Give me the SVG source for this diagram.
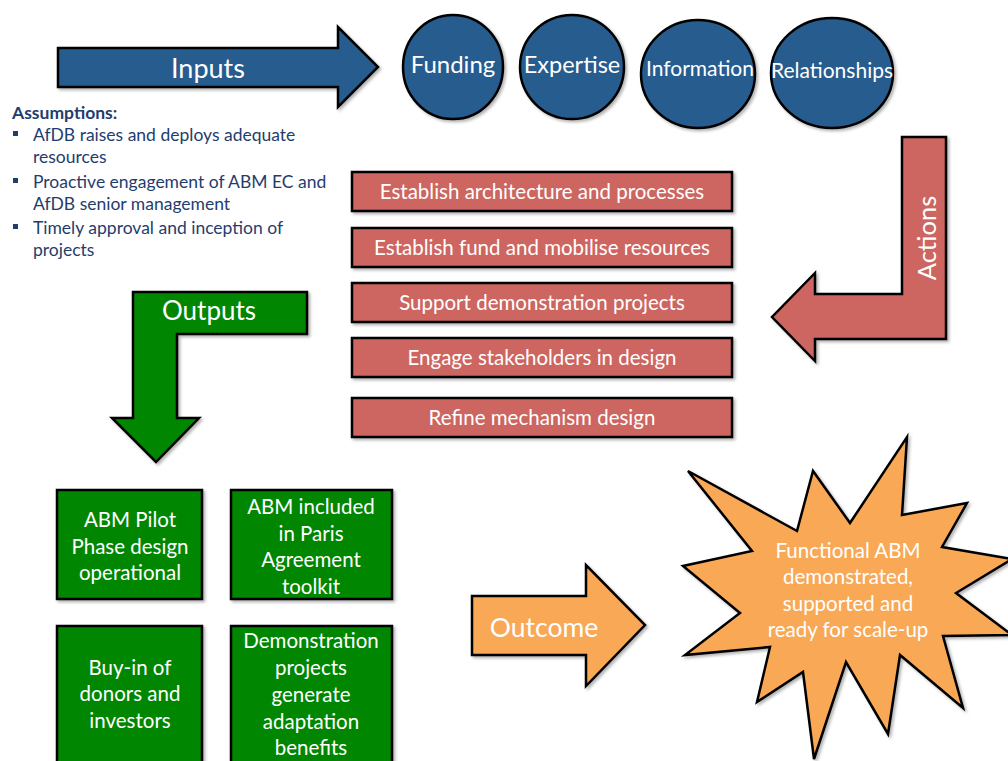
<svg xmlns="http://www.w3.org/2000/svg" width="1008" height="761" viewBox="0 0 1008 761">
  <defs>
    <filter id="shadow" x="-10%" y="-10%" width="130%" height="130%">
      <feDropShadow dx="2" dy="2" stdDeviation="1.5" flood-color="#000" flood-opacity="0.3"/>
    </filter>
    <style>
      .shape { stroke: #000; stroke-width: 2.5; stroke-linejoin: miter; filter: url(#shadow); }
      .blue { fill: #285b8e; }
      .red { fill: #cd6660; }
      .green { fill: #068606; }
      .orange { fill: #f9a857; }
      .lbl { font-family: Lato, "Open Sans", "Liberation Sans", sans-serif; fill: #fff; text-anchor: middle; }
      .assume { font-family: Lato, "Open Sans", "Liberation Sans", sans-serif; fill: #1f3d6e; font-size: 17.5px; }
      .bullet { fill: #1f3d6e; }
    </style>
  </defs>
  <rect width="1008" height="761" fill="#fff"/>

  <!-- Block arrows linking the stages -->
  <g id="connectors">
    <g id="arrow-inputs">
      <polygon class="shape blue" points="58,48 338,48 338,27 378,67 338,107 338,87 58,87"/>
      <text class="lbl" x="208" y="78" font-size="27">Inputs</text>
    </g>
    <g id="arrow-actions">
      <polygon class="shape red" points="902,137 946,137 946,339 815,339 815,361 772,317 815,273 815,294 902,294"/>
      <text class="lbl" x="0" y="0" font-size="25.5" transform="translate(936,238) rotate(-90)">Actions</text>
    </g>
    <g id="arrow-outputs">
      <polygon class="shape green" points="133,292 307,292 307,334 177,334 177,418 199,418 156,462 112,418 133,418"/>
      <text class="lbl" x="209" y="320" font-size="26">Outputs</text>
    </g>
    <g id="arrow-outcome">
      <polygon class="shape orange" points="472,596 586,596 586,565 645,625 586,686 586,655 472,655"/>
      <text class="lbl" x="544" y="637" font-size="26.5">Outcome</text>
    </g>
  </g>

  <!-- Inputs -->
  <g id="input-funding">
    <ellipse class="shape blue" cx="453" cy="67" rx="50" ry="52"/>
    <text class="lbl" x="453" y="73" font-size="24">Funding</text>
  </g>
  <g id="input-expertise">
    <ellipse class="shape blue" cx="572" cy="67" rx="52" ry="52"/>
    <text class="lbl" x="572" y="73" font-size="23.5">Expertise</text>
  </g>
  <g id="input-information">
    <ellipse class="shape blue" cx="698" cy="74" rx="57" ry="54"/>
    <text class="lbl" x="700" y="76" font-size="21">Information</text>
  </g>
  <g id="input-relationships">
    <ellipse class="shape blue" cx="832" cy="73" rx="61" ry="55"/>
    <text class="lbl" x="832" y="78" font-size="21">Relationships</text>
  </g>

  <!-- Assumptions -->
  <g id="assumptions">
    <text class="assume" x="12" y="119" font-weight="bold" font-size="17">Assumptions:</text>
    <rect class="bullet" x="13" y="131" width="5" height="5"/>
    <text class="assume" x="33" y="141">AfDB raises and deploys adequate</text>
    <text class="assume" x="33" y="163">resources</text>
    <rect class="bullet" x="13" y="178" width="5" height="5"/>
    <text class="assume" x="33" y="188">Proactive engagement of ABM EC and</text>
    <text class="assume" x="33" y="210">AfDB senior management</text>
    <rect class="bullet" x="13" y="224" width="5" height="5"/>
    <text class="assume" x="33" y="234">Timely approval and inception of</text>
    <text class="assume" x="33" y="256">projects</text>
  </g>

  <!-- Actions -->
  <g id="action-architecture">
    <rect class="shape red" x="352" y="172" width="380" height="39"/>
    <text class="lbl" x="542" y="199" font-size="20.5">Establish architecture and processes</text>
  </g>
  <g id="action-fund">
    <rect class="shape red" x="352" y="228" width="380" height="39"/>
    <text class="lbl" x="542" y="255" font-size="20.5">Establish fund and mobilise resources</text>
  </g>
  <g id="action-demo">
    <rect class="shape red" x="352" y="283" width="380" height="39"/>
    <text class="lbl" x="542" y="310" font-size="20.5">Support demonstration projects</text>
  </g>
  <g id="action-stakeholders">
    <rect class="shape red" x="352" y="338" width="380" height="39"/>
    <text class="lbl" x="542" y="365" font-size="20.5">Engage stakeholders in design</text>
  </g>
  <g id="action-refine">
    <rect class="shape red" x="352" y="398" width="380" height="39"/>
    <text class="lbl" x="542" y="425" font-size="20.5">Refine mechanism design</text>
  </g>

  <!-- Outputs -->
  <g id="output-pilot">
    <rect class="shape green" x="57" y="490" width="145" height="109"/>
    <text class="lbl" font-size="20.5"><tspan x="130" y="527">ABM Pilot</tspan><tspan x="130" y="554">Phase design</tspan><tspan x="130" y="580">operational</tspan></text>
  </g>
  <g id="output-paris">
    <rect class="shape green" x="231" y="490" width="161" height="109"/>
    <text class="lbl" font-size="20.5"><tspan x="311" y="514">ABM included</tspan><tspan x="311" y="541">in Paris</tspan><tspan x="311" y="567">Agreement</tspan><tspan x="311" y="594">toolkit</tspan></text>
  </g>
  <g id="output-buyin">
    <rect class="shape green" x="57" y="626" width="145" height="150"/>
    <text class="lbl" font-size="20.5"><tspan x="130" y="675">Buy-in of</tspan><tspan x="130" y="701">donors and</tspan><tspan x="130" y="728">investors</tspan></text>
  </g>
  <g id="output-benefits">
    <rect class="shape green" x="231" y="626" width="161" height="150"/>
    <text class="lbl" font-size="20.5"><tspan x="311" y="648">Demonstration</tspan><tspan x="311" y="675">projects</tspan><tspan x="311" y="702">generate</tspan><tspan x="311" y="729">adaptation</tspan><tspan x="311" y="755">benefits</tspan></text>
  </g>

  <!-- Outcome -->
  <g id="outcome">
    <polygon class="shape orange" points="688,471 797,531 813,471 850,523 907,437 902,515 967,503 942,547 1012,559 956,593 1012,635 943,636 963,708 900,655 888,734 846,662 814,759 803,672 757,702 770,647 685,655 740,613 683,566 752,551"/>
    <text class="lbl" font-size="20.5"><tspan x="848" y="558">Functional ABM</tspan><tspan x="848" y="584">demonstrated,</tspan><tspan x="848" y="611">supported and</tspan><tspan x="848" y="637">ready for scale-up</tspan></text>
  </g>
</svg>
